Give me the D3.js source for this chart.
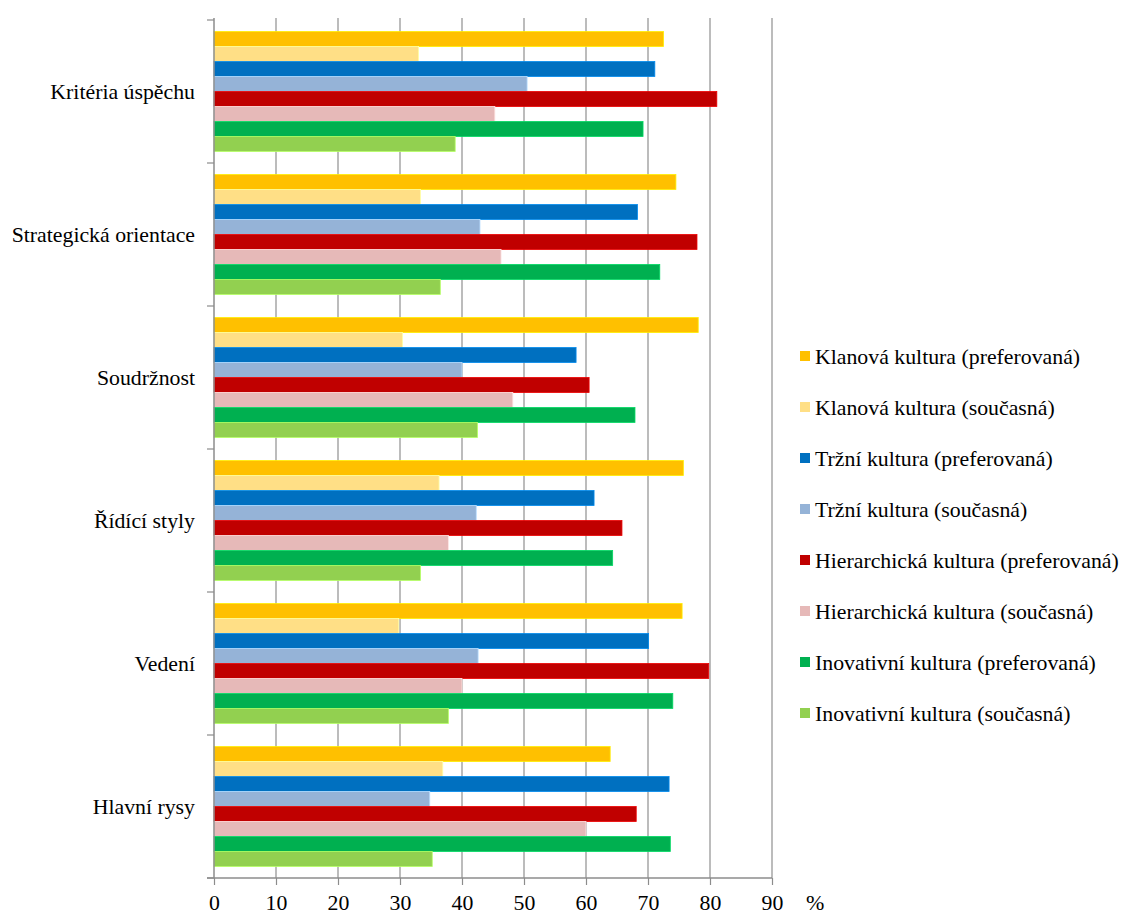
<!doctype html>
<html>
<head>
<meta charset="utf-8">
<script src="https://cdn.jsdelivr.net/npm/d3@7"></script>
<style>
  body { margin: 0; background: #fff; }
  svg text { font-family: "Liberation Serif", "Times New Roman", serif; fill: #000; }
</style>
</head>
<body>
<svg id="chart" width="1123" height="916"></svg>
<script>
  // categories top to bottom
  var categories = ['Kritéria úspěchu', 'Strategická orientace', 'Soudržnost', 'Řídící styly', 'Vedení', 'Hlavní rysy'];

  var seriesNames = [
    'Klanová kultura (preferovaná)',
    'Klanová kultura (současná)',
    'Tržní kultura (preferovaná)',
    'Tržní kultura (současná)',
    'Hierarchická kultura (preferovaná)',
    'Hierarchická kultura (současná)',
    'Inovativní kultura (preferovaná)',
    'Inovativní kultura (současná)'
  ];

  var seriesColors = ['#FFC000', '#FFDF86', '#0070C0', '#95B3D7', '#C00000', '#E6B9B8', '#00B050', '#92D050'];

  // values in %, one array per series, in category order
  var klanPref  = [72.5, 74.5, 78.1, 75.7, 75.5, 63.9];
  var klanSouc  = [33.0, 33.3, 30.4, 36.3, 29.8, 36.9];
  var trzniPref = [71.1, 68.3, 58.4, 61.3, 70.1, 73.4];
  var trzniSouc = [50.5, 42.9, 40.0, 42.3, 42.6, 34.8];
  var hierPref  = [81.1, 77.9, 60.5, 65.8, 79.8, 68.1];
  var hierSouc  = [45.3, 46.3, 48.2, 37.8, 40.0, 60.0];
  var inovPref  = [69.2, 71.9, 67.9, 64.3, 74.0, 73.6];
  var inovSouc  = [38.9, 36.5, 42.5, 33.3, 37.8, 35.2];

  var xTicks = [0, 10, 20, 30, 40, 50, 60, 70, 80, 90];

  var seriesValues = [klanPref, klanSouc, trzniPref, trzniSouc, hierPref, hierSouc, inovPref, inovSouc];

  (function () {
    var svg = d3.select('#chart');

    var plotLeft = 214, plotRight = 772, plotTop = 20, plotBottom = 878;
    var labelSize = 21.8;

    var x = d3.scaleLinear().domain([0, 90]).range([plotLeft, plotRight]);
    var y = d3.scaleBand().domain(categories).range([plotTop, plotBottom]);
    var yInner = d3.scaleBand().domain(d3.range(seriesNames.length))
      .range([0, y.bandwidth()]).paddingOuter(0.77);

    // gridlines
    svg.append('g').selectAll('line')
      .data(xTicks.slice(1))
      .enter().append('line')
      .attr('x1', function (d) { return x(d); })
      .attr('x2', function (d) { return x(d); })
      .attr('y1', plotTop - 2)
      .attr('y2', plotBottom)
      .attr('stroke', '#A6A6A6')
      .attr('stroke-width', 1.5);

    // bars
    var rows = [];
    categories.forEach(function (c, ci) {
      seriesValues.forEach(function (vals, si) {
        rows.push({ cat: c, s: si, v: vals[ci] });
      });
    });

    svg.append('g').selectAll('rect')
      .data(rows)
      .enter().append('rect')
      .attr('x', x(0))
      .attr('y', function (d) { return y(d.cat) + yInner(d.s); })
      .attr('width', function (d) { return x(d.v) - x(0); })
      .attr('height', yInner.bandwidth())
      .attr('fill', function (d) { return seriesColors[d.s]; })
      .attr('stroke', function (d) { return d3.color(seriesColors[d.s]).brighter(0.6); })
      .attr('stroke-width', 0.8);

    // y axis line + ticks at category boundaries
    var axisColor = '#8C8C8C';
    svg.append('line')
      .attr('x1', plotLeft).attr('x2', plotLeft)
      .attr('y1', plotTop - 2).attr('y2', plotBottom)
      .attr('stroke', axisColor).attr('stroke-width', 1.5);

    var bounds = categories.map(function (c) { return y(c); }).concat([plotBottom]);
    svg.append('g').selectAll('line')
      .data(bounds)
      .enter().append('line')
      .attr('x1', plotLeft - 7).attr('x2', plotLeft)
      .attr('y1', function (d) { return d; })
      .attr('y2', function (d) { return d; })
      .attr('stroke', axisColor).attr('stroke-width', 1.2);

    svg.append('g').selectAll('text')
      .data(categories)
      .enter().append('text')
      .attr('x', 195)
      .attr('y', function (d) { return y(d) + y.bandwidth() / 2; })
      .attr('dy', '0.35em')
      .attr('text-anchor', 'end')
      .attr('font-size', labelSize)
      .text(function (d) { return d; });

    // x axis
    var xAxis = svg.append('g')
      .attr('transform', 'translate(0,' + plotBottom + ')')
      .call(d3.axisBottom(x).tickValues(xTicks).tickSize(7).tickSizeOuter(0).tickPadding(10));
    xAxis.select('.domain').attr('d', 'M' + (plotLeft - 7) + ',0H' + plotRight)
      .attr('stroke', axisColor).attr('stroke-width', 1.5);
    xAxis.selectAll('.tick line').attr('stroke', axisColor).attr('stroke-width', 1.2);
    xAxis.selectAll('.tick text')
      .attr('font-family', '"Liberation Serif", serif')
      .attr('font-size', labelSize)
      .attr('fill', '#000');

    svg.append('text')
      .attr('x', 806)
      .attr('y', plotBottom + 32)
      .attr('font-size', 22)
      .text('%');

    // legend
    var legend = svg.append('g').selectAll('g')
      .data(seriesNames)
      .enter().append('g')
      .attr('transform', function (d, i) { return 'translate(800,' + (356 + i * 51) + ')'; });

    legend.append('rect')
      .attr('x', 0).attr('y', -5)
      .attr('width', 10).attr('height', 10)
      .attr('fill', function (d, i) { return seriesColors[i]; });

    legend.append('text')
      .attr('x', 15)
      .attr('dy', '0.35em')
      .attr('font-size', labelSize)
      .text(function (d) { return d; });
  })();
</script>
</body>
</html>
